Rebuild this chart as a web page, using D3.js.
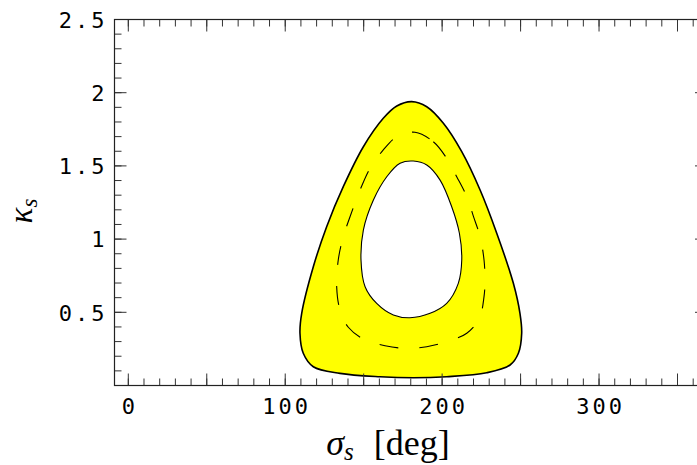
<!DOCTYPE html>
<html>
<head>
<meta charset="utf-8">
<script src="https://cdn.jsdelivr.net/npm/d3@7"></script>
<style>
  html, body { margin: 0; padding: 0; background: #fff; }
  svg { display: block; }
  .tick-label { font-family: "DejaVu Sans Mono", monospace; font-size: 22px; letter-spacing: 3px; fill: #000; }
  .axis-title { font-family: "Liberation Serif", "DejaVu Serif", serif; font-size: 36px; fill: #000; }
</style>
</head>
<body>
<div id="chart"></div>
<script>
// contour points: [sigma_s (deg), kappa_s]
const outerContour = [
  [180.6, 1.939], [190.2, 1.904], [200.8, 1.791], [212.5, 1.597], [224.2, 1.335],
  [234.8, 1.040], [245.4, 0.698], [249.6, 0.493], [250.7, 0.357], [248.6, 0.220],
  [243.3, 0.140], [228.4, 0.087], [202.9, 0.060], [181.6, 0.053], [160.4, 0.060],
  [134.9, 0.083], [117.9, 0.128], [111.5, 0.220], [109.4, 0.357], [110.5, 0.493],
  [117.9, 0.811], [126.4, 1.085], [137.0, 1.358], [149.8, 1.631], [162.5, 1.825],
  [171.1, 1.909]
];
const innerContour = [
  [181.6, 1.533], [190.2, 1.506], [198.7, 1.403], [206.1, 1.221], [211.0, 1.040],
  [212.5, 0.857], [210.3, 0.698], [202.9, 0.561], [192.3, 0.493], [179.5, 0.463],
  [168.9, 0.482], [158.3, 0.561], [150.9, 0.675], [148.3, 0.857], [149.8, 1.062],
  [156.2, 1.267], [164.7, 1.426], [173.2, 1.518]
];
const dashedContour = [
  [182.7, 1.730], [194.4, 1.665], [202.9, 1.552], [209.3, 1.426], [215.7, 1.290],
  [220.0, 1.153], [224.2, 1.016], [226.7, 0.857], [227.3, 0.721], [226.7, 0.607],
  [223.7, 0.459], [215.7, 0.357], [202.9, 0.299], [190.2, 0.265], [176.4, 0.254],
  [163.6, 0.272], [150.9, 0.311], [140.2, 0.398], [134.9, 0.516], [132.8, 0.675],
  [133.8, 0.857], [137.0, 1.016], [141.3, 1.153], [147.7, 1.335], [154.1, 1.484],
  [162.5, 1.609], [171.1, 1.699]
];

const xTickValues = [0, 100, 200, 300];
const xTickLabels = ["0", "100", "200", "300"];
const yTickValues = [0.5, 1, 1.5, 2, 2.5];
const yTickLabels = ["0.5", "1", "1.5", "2", "2.5"];

const W = 697, H = 465;
const PLOT = { left: 114.5, right: 707, top: 19.5, bottom: 385.5 };
const MAJOR = 12, MINOR = 7;

const svg = d3.select("#chart").append("svg")
  .attr("width", W).attr("height", H);

const x = d3.scaleLinear().domain([-8.8, 368.8]).range([PLOT.left, PLOT.right]);
const y = d3.scaleLinear().domain([0, 2.5]).range([PLOT.bottom, PLOT.top]);

const line = d3.line()
  .x(d => x(d[0])).y(d => y(d[1]))
  .curve(d3.curveCatmullRomClosed.alpha(0.5));

// ── Filled band (outer minus inner) ──
svg.append("path")
  .attr("d", line(outerContour) + line(innerContour))
  .attr("fill", "#ffff00")
  .attr("fill-rule", "evenodd")
  .attr("stroke", "none");

svg.append("path")
  .attr("d", line(outerContour))
  .attr("fill", "none").attr("stroke", "#000").attr("stroke-width", 1.6);

svg.append("path")
  .attr("d", line(innerContour))
  .attr("fill", "none").attr("stroke", "#000").attr("stroke-width", 1.1);

svg.append("path")
  .attr("d", line(dashedContour))
  .attr("fill", "none").attr("stroke", "#000").attr("stroke-width", 1.1)
  .attr("stroke-dasharray", "19,21");

// ── Frame and ticks ──
const xMinor = d3.range(0, 361, 10);
const xMajor = d3.range(0, 351, 50);
const yMinor = d3.range(0, 25).map(i => i / 10);
const yMajor = d3.range(0, 6).map(i => i / 2);

const tickColor = "#333";
const frame = svg.append("g");

function ticks(vals, len, side) {
  frame.selectAll(null).data(vals).join("line")
    .attr("x1", d => side === "left" ? PLOT.left : side === "right" ? PLOT.right : x(d))
    .attr("x2", d => side === "left" ? PLOT.left + len : side === "right" ? PLOT.right - len : x(d))
    .attr("y1", d => side === "bottom" ? PLOT.bottom : side === "top" ? PLOT.top : y(d))
    .attr("y2", d => side === "bottom" ? PLOT.bottom - len : side === "top" ? PLOT.top + len : y(d))
    .attr("stroke", tickColor).attr("stroke-width", 1);
}
ticks(xMinor, MINOR, "bottom"); ticks(xMajor, MAJOR, "bottom");
ticks(xMinor, MINOR, "top");    ticks(xMajor, MAJOR, "top");
ticks(yMinor, MINOR, "left");   ticks(yMajor, MAJOR, "left");
ticks(yMinor, MINOR, "right");  ticks(yMajor, MAJOR, "right");

frame.append("rect")
  .attr("x", PLOT.left).attr("y", PLOT.top)
  .attr("width", PLOT.right - PLOT.left).attr("height", PLOT.bottom - PLOT.top)
  .attr("fill", "none").attr("stroke", "#222").attr("stroke-width", 1.2);

// ── Tick labels ──
svg.selectAll("text.xl").data(xTickValues).join("text")
  .attr("class", "tick-label xl")
  .attr("x", d => x(d) + 1.5)
  .attr("y", 413.5)
  .attr("text-anchor", "middle")
  .text((d, i) => xTickLabels[i]);

svg.selectAll("text.yl").data(yTickValues).join("text")
  .attr("class", "tick-label yl")
  .attr("x", 107.5)
  .attr("y", d => y(d) + 8.3)
  .attr("text-anchor", "end")
  .text((d, i) => yTickLabels[i]);

// ── Axis titles ──
const xt = svg.append("text").attr("class", "axis-title")
  .attr("x", 388).attr("y", 455).attr("text-anchor", "middle");
xt.append("tspan").attr("font-style", "italic").text("σ");
xt.append("tspan").attr("font-style", "italic").attr("font-size", "25px").attr("dy", 5).text("s");
xt.append("tspan").attr("dy", -5).attr("dx", 20).text("[deg]");

const yt = svg.append("text").attr("class", "axis-title")
  .style("font-size", "33px")
  .attr("transform", "translate(32,211) rotate(-90)")
  .attr("text-anchor", "middle");
yt.append("tspan").attr("font-style", "italic").text("κ");
yt.append("tspan").attr("font-style", "italic").attr("font-size", "23px").attr("dy", 5).text("s");
</script>
</body>
</html>
